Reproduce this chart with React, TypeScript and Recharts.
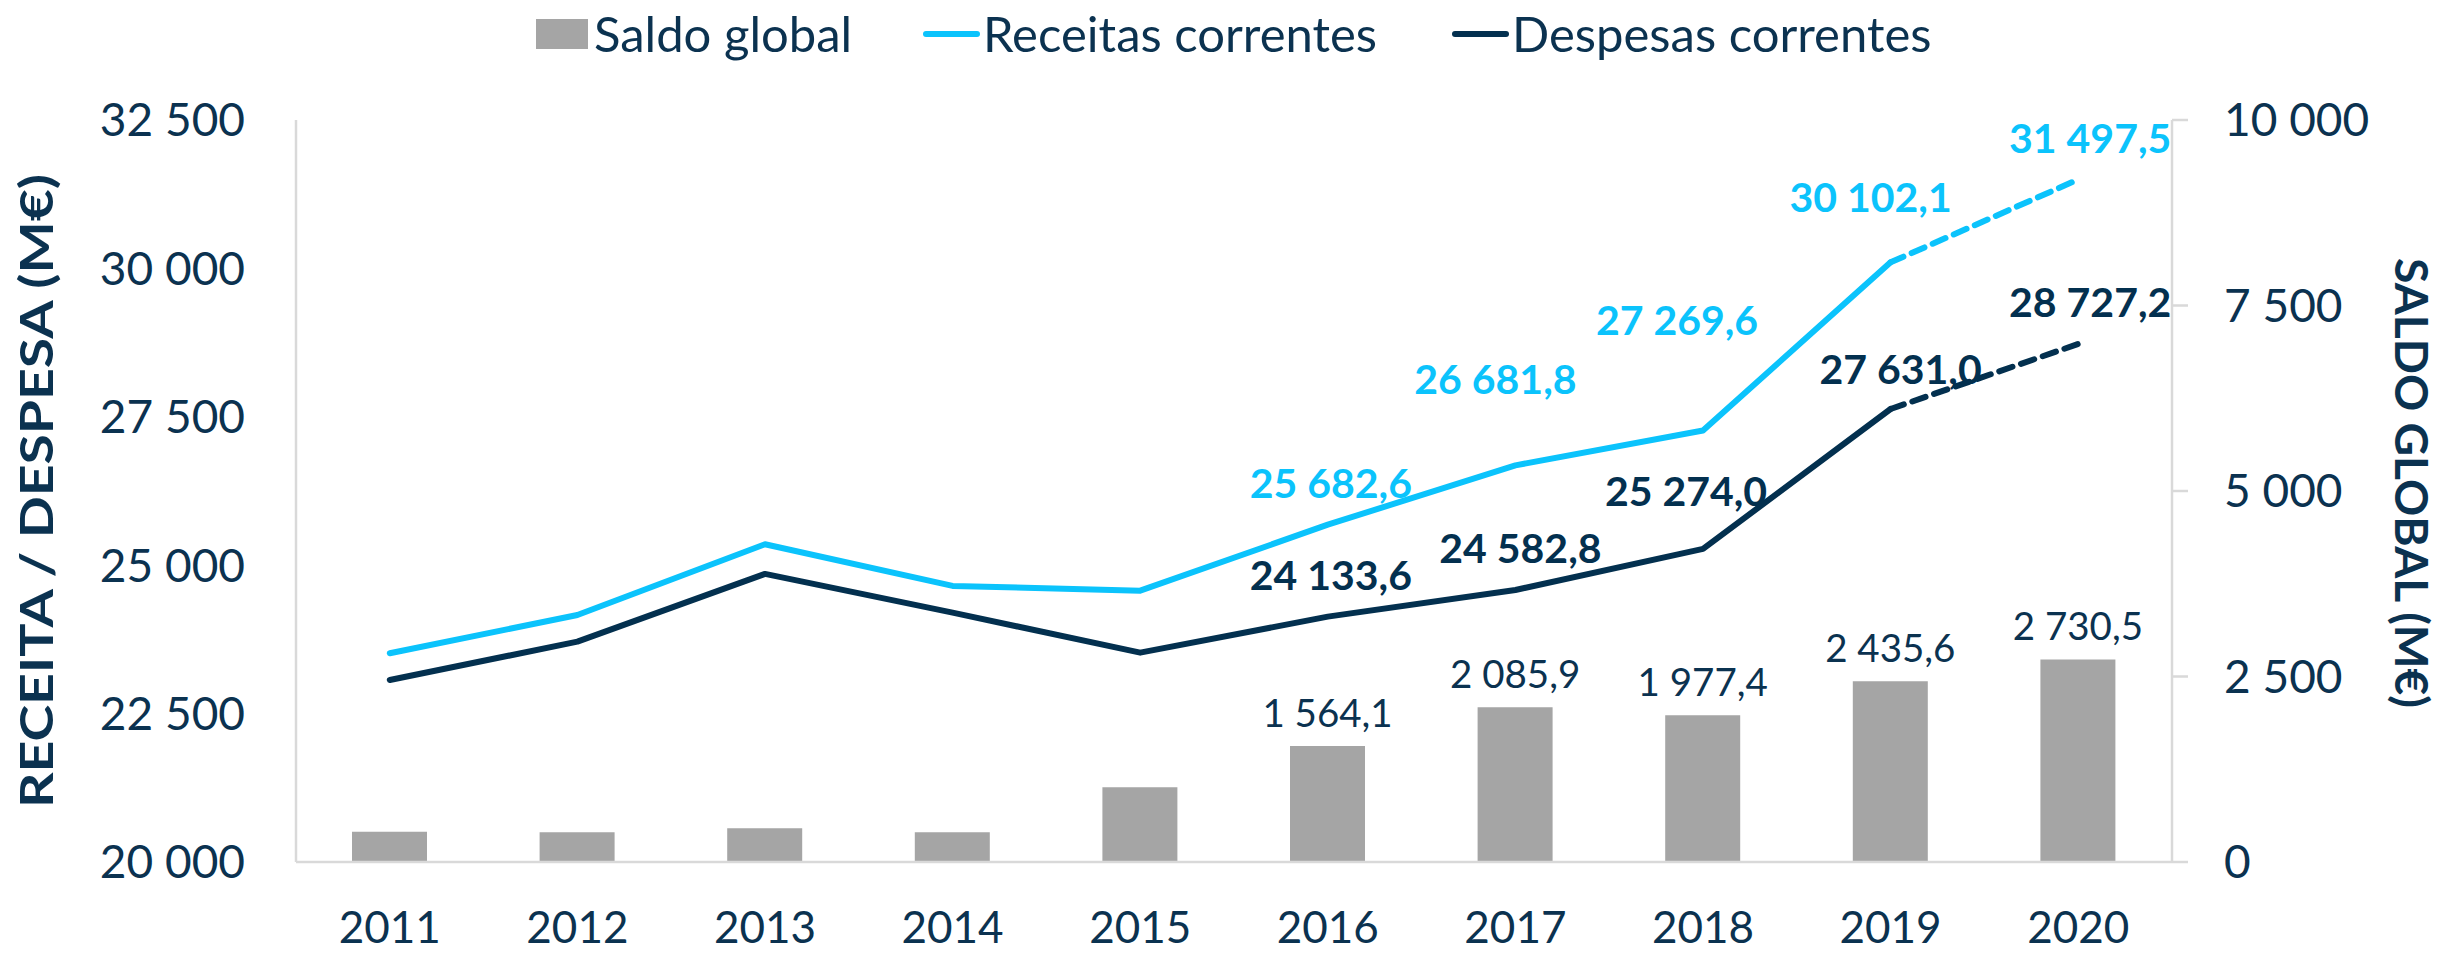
import React from "react";
import { ComposedChart, Bar, Line, XAxis, YAxis, LabelList } from "recharts";

const years = ["2011", "2012", "2013", "2014", "2015", "2016", "2017", "2018", "2019", "2020"];
const receitas = [23517, 24162, 25353, 24651, 24571, 25682.6, 26681.8, 27269.6, 30102.1, 31497.5];
const despesas = [23067, 23712, 24853, 24201, 23527, 24133.6, 24582.8, 25274.0, 27631.0, 28727.2];
const saldo = [408, 400, 454, 400, 1007, 1564.1, 2085.9, 1977.4, 2435.6, 2730.5];
const leftTicks = [20000, 22500, 25000, 27500, 30000, 32500];
const rightTicks = [0, 2500, 5000, 7500, 10000];

// from 2016 on the values are printed; 2019 -> 2020 is the dashed (estimated) part
const firstLabelled = 5;
const lastActual = 8;

const navy = "#0B3250";
const cyan = "#0BC3FC";
const dark = "#03304F";
const grey = "#A5A5A5";
const axisGrey = "#D9D9D9";
const font = "Lato, 'Open Sans', sans-serif";

// where each value label sits relative to its point (text centre)
const receitasNudge: Record<number, [number, number]> = {
  5: [3, -42],
  6: [-20, -87],
  7: [-26, -111],
  8: [-20, -66],
  9: [12, -42],
};
const despesasNudge: Record<number, [number, number]> = {
  5: [3, -42],
  6: [5, -42],
  7: [-17, -58],
  8: [10, -41],
  9: [12, -42],
};

const rows = years.map((year, i) => ({
  year,
  saldo: saldo[i],
  receitas: i <= lastActual ? receitas[i] : null,
  receitasProj: i >= lastActual ? receitas[i] : null,
  despesas: i <= lastActual ? despesas[i] : null,
  despesasProj: i >= lastActual ? despesas[i] : null,
}));

function fmt(v: number, decimals: number) {
  const [int, dec] = v.toFixed(decimals).split(".");
  const grouped = int.replace(/\B(?=(\d{3})+(?!\d))/g, " ");
  return dec ? `${grouped},${dec}` : grouped;
}

function lineLabel(color: string, nudge: Record<number, [number, number]>, from: number, to: number) {
  return (props: any) => {
    const { x, y, value, index } = props;
    if (index < from || index > to || value == null) return null;
    const [dx, dy] = nudge[index] ?? [0, -42];
    return (
      <text
        x={x + dx}
        y={y + dy}
        textAnchor="middle"
        dominantBaseline="central"
        fill={color}
        fontFamily={font}
        fontWeight={700}
        fontSize={41}
      >
        {fmt(value, 1)}
      </text>
    );
  };
}

function barLabel(props: any) {
  const { x, y, width, value, index } = props;
  if (index < firstLabelled) return null;
  return (
    <text
      x={x + width / 2}
      y={y - 34}
      textAnchor="middle"
      dominantBaseline="central"
      fill={navy}
      fontFamily={font}
      fontSize={38.5}
    >
      {fmt(value, 1)}
    </text>
  );
}

function LeftTitle(props: any) {
  const vb = props.viewBox;
  const cx = vb.x + 35;
  const cy = vb.y + vb.height / 2;
  return (
    <text
      x={cx}
      y={cy}
      transform={`rotate(-90, ${cx}, ${cy})`}
      textAnchor="middle"
      dominantBaseline="central"
      fill={navy}
      fontFamily={font}
      fontWeight={700}
      fontSize={46}
      textLength={634}
      lengthAdjust="spacingAndGlyphs"
    >
      RECEITA / DESPESA (M€)
    </text>
  );
}

function RightTitle(props: any) {
  const vb = props.viewBox;
  const cx = vb.x + 240;
  const cy = vb.y + vb.height / 2 - 8;
  return (
    <text
      x={cx}
      y={cy}
      transform={`rotate(90, ${cx}, ${cy})`}
      textAnchor="middle"
      dominantBaseline="central"
      fill={navy}
      fontFamily={font}
      fontWeight={700}
      fontSize={46}
      textLength={450}
      lengthAdjust="spacingAndGlyphs"
    >
      SALDO GLOBAL (M€)
    </text>
  );
}

function ChartLegend() {
  const text: React.CSSProperties = {
    position: "absolute",
    top: 33,
    transform: "translateY(-50%)",
    fontFamily: font,
    fontSize: 49,
    color: navy,
    whiteSpace: "nowrap",
    lineHeight: 1,
  };
  return (
    <div style={{ position: "absolute", left: 0, top: 0, width: 2443, height: 70 }}>
      <div style={{ position: "absolute", left: 536, top: 19, width: 52, height: 30, background: grey }} />
      <span style={{ ...text, left: 594 }}>Saldo global</span>
      <div style={{ position: "absolute", left: 923, top: 31, width: 57, height: 6, borderRadius: 3, background: cyan }} />
      <span style={{ ...text, left: 983 }}>Receitas correntes</span>
      <div style={{ position: "absolute", left: 1452, top: 31, width: 57, height: 6, borderRadius: 3, background: dark }} />
      <span style={{ ...text, left: 1512 }}>Despesas correntes</span>
    </div>
  );
}

export default function App() {
  return (
    <div style={{ position: "absolute", left: 0, top: 0, width: 2443, height: 954, background: "#fff" }}>
      <ComposedChart width={2443} height={954} data={rows} margin={{ top: 120, right: 0, bottom: 0, left: 0 }}>
        <XAxis
          dataKey="year"
          height={92}
          interval={0}
          tickLine={false}
          tickSize={0}
          tickMargin={50}
          axisLine={{ stroke: axisGrey, strokeWidth: 2.5 }}
          tick={{ fill: navy, fontSize: 44, fontFamily: font }}
        />
        <YAxis
          yAxisId="left"
          domain={[20000, 32500]}
          ticks={leftTicks}
          width={296}
          tickLine={false}
          tickSize={0}
          tickMargin={51}
          allowDataOverflow
          axisLine={{ stroke: axisGrey, strokeWidth: 2.5 }}
          tickFormatter={(v: number) => fmt(v, 0)}
          tick={{ fill: navy, fontSize: 46, fontFamily: font }}
          label={{ content: LeftTitle }}
        />
        <YAxis
          yAxisId="right"
          orientation="right"
          domain={[0, 10000]}
          ticks={rightTicks}
          width={271}
          tickSize={16}
          tickMargin={36}
          tickLine={{ stroke: axisGrey, strokeWidth: 2.5 }}
          axisLine={{ stroke: axisGrey, strokeWidth: 2.5 }}
          tickFormatter={(v: number) => fmt(v, 0)}
          tick={{ fill: navy, fontSize: 46, fontFamily: font }}
          label={{ content: RightTitle }}
        />
        <Bar yAxisId="right" dataKey="saldo" fill={grey} barSize={75} isAnimationActive={false}>
          <LabelList dataKey="saldo" content={barLabel} />
        </Bar>
        <Line
          yAxisId="left"
          dataKey="receitas"
          stroke={cyan}
          strokeWidth={6}
          strokeLinecap="round"
          strokeLinejoin="round"
          dot={false}
          isAnimationActive={false}
        >
          <LabelList dataKey="receitas" content={lineLabel(cyan, receitasNudge, firstLabelled, lastActual)} />
        </Line>
        <Line
          yAxisId="left"
          dataKey="receitasProj"
          stroke={cyan}
          strokeWidth={6}
          strokeDasharray="14 9"
          strokeLinecap="round"
          dot={false}
          isAnimationActive={false}
        >
          <LabelList dataKey="receitasProj" content={lineLabel(cyan, receitasNudge, lastActual + 1, years.length - 1)} />
        </Line>
        <Line
          yAxisId="left"
          dataKey="despesas"
          stroke={dark}
          strokeWidth={6}
          strokeLinecap="round"
          strokeLinejoin="round"
          dot={false}
          isAnimationActive={false}
        >
          <LabelList dataKey="despesas" content={lineLabel(dark, despesasNudge, firstLabelled, lastActual)} />
        </Line>
        <Line
          yAxisId="left"
          dataKey="despesasProj"
          stroke={dark}
          strokeWidth={6}
          strokeDasharray="14 9"
          strokeLinecap="round"
          dot={false}
          isAnimationActive={false}
        >
          <LabelList dataKey="despesasProj" content={lineLabel(dark, despesasNudge, lastActual + 1, years.length - 1)} />
        </Line>
      </ComposedChart>
      <ChartLegend />
    </div>
  );
}
